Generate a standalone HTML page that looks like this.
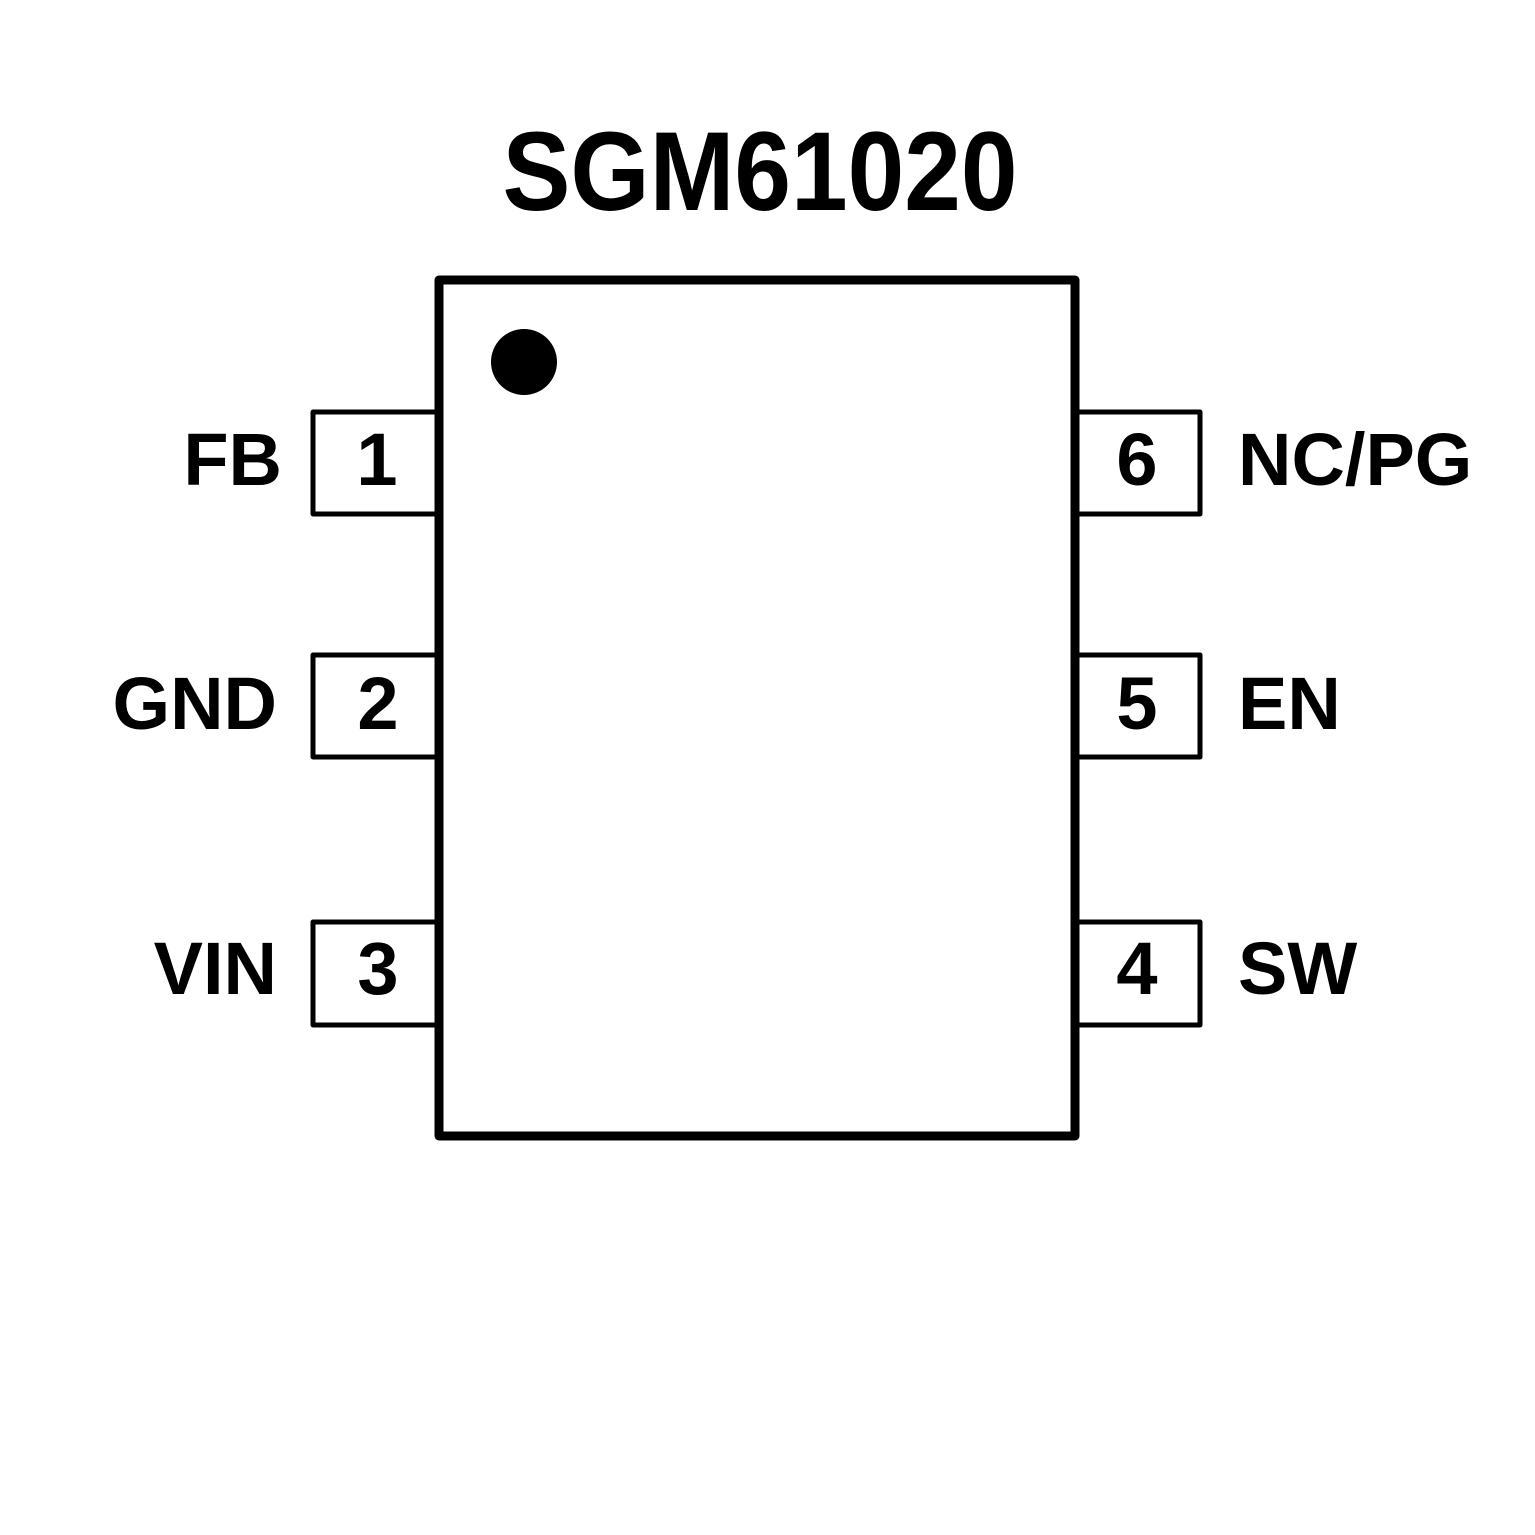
<!DOCTYPE html>
<html><head><style>html,body{margin:0;padding:0;background:#fff}</style></head><body>
<svg width="1535" height="1535" xmlns="http://www.w3.org/2000/svg" style="display:block">
<rect width="1535" height="1535" fill="#fff"/>
<text x="760" y="210" text-anchor="middle" font-family="Liberation Sans, sans-serif" font-weight="bold" font-size="112" textLength="515" lengthAdjust="spacingAndGlyphs">SGM61020</text>
<g fill="none" stroke="#000" stroke-width="5" stroke-linejoin="round">
<rect x="313" y="412" width="126" height="102"/>
<rect x="313" y="655" width="126" height="102"/>
<rect x="313" y="922" width="126" height="103"/>
<rect x="1075" y="412" width="125" height="102"/>
<rect x="1075" y="655" width="125" height="102"/>
<rect x="1075" y="922" width="125" height="103"/>
</g>
<rect x="439" y="280" width="636" height="856" fill="#fff" stroke="#000" stroke-width="9" stroke-linejoin="round"/>
<circle cx="524" cy="362" r="33" fill="#000"/>
<g font-family="Liberation Sans, sans-serif" font-weight="bold" font-size="74" fill="#000">
<text x="377" y="485" text-anchor="middle">1</text>
<text x="378" y="729" text-anchor="middle">2</text>
<text x="378" y="994" text-anchor="middle">3</text>
<text x="1137" y="485" text-anchor="middle">6</text>
<text x="1137" y="729" text-anchor="middle">5</text>
<text x="1137" y="994" text-anchor="middle">4</text>
<text x="282" y="485" text-anchor="end">FB</text>
<text x="277" y="729" text-anchor="end">GND</text>
<text x="277" y="994" text-anchor="end">VIN</text>
<text x="1238" y="485">NC/PG</text>
<text x="1238" y="729">EN</text>
<text x="1238" y="994">SW</text>
</g>
</svg>
</body></html>
